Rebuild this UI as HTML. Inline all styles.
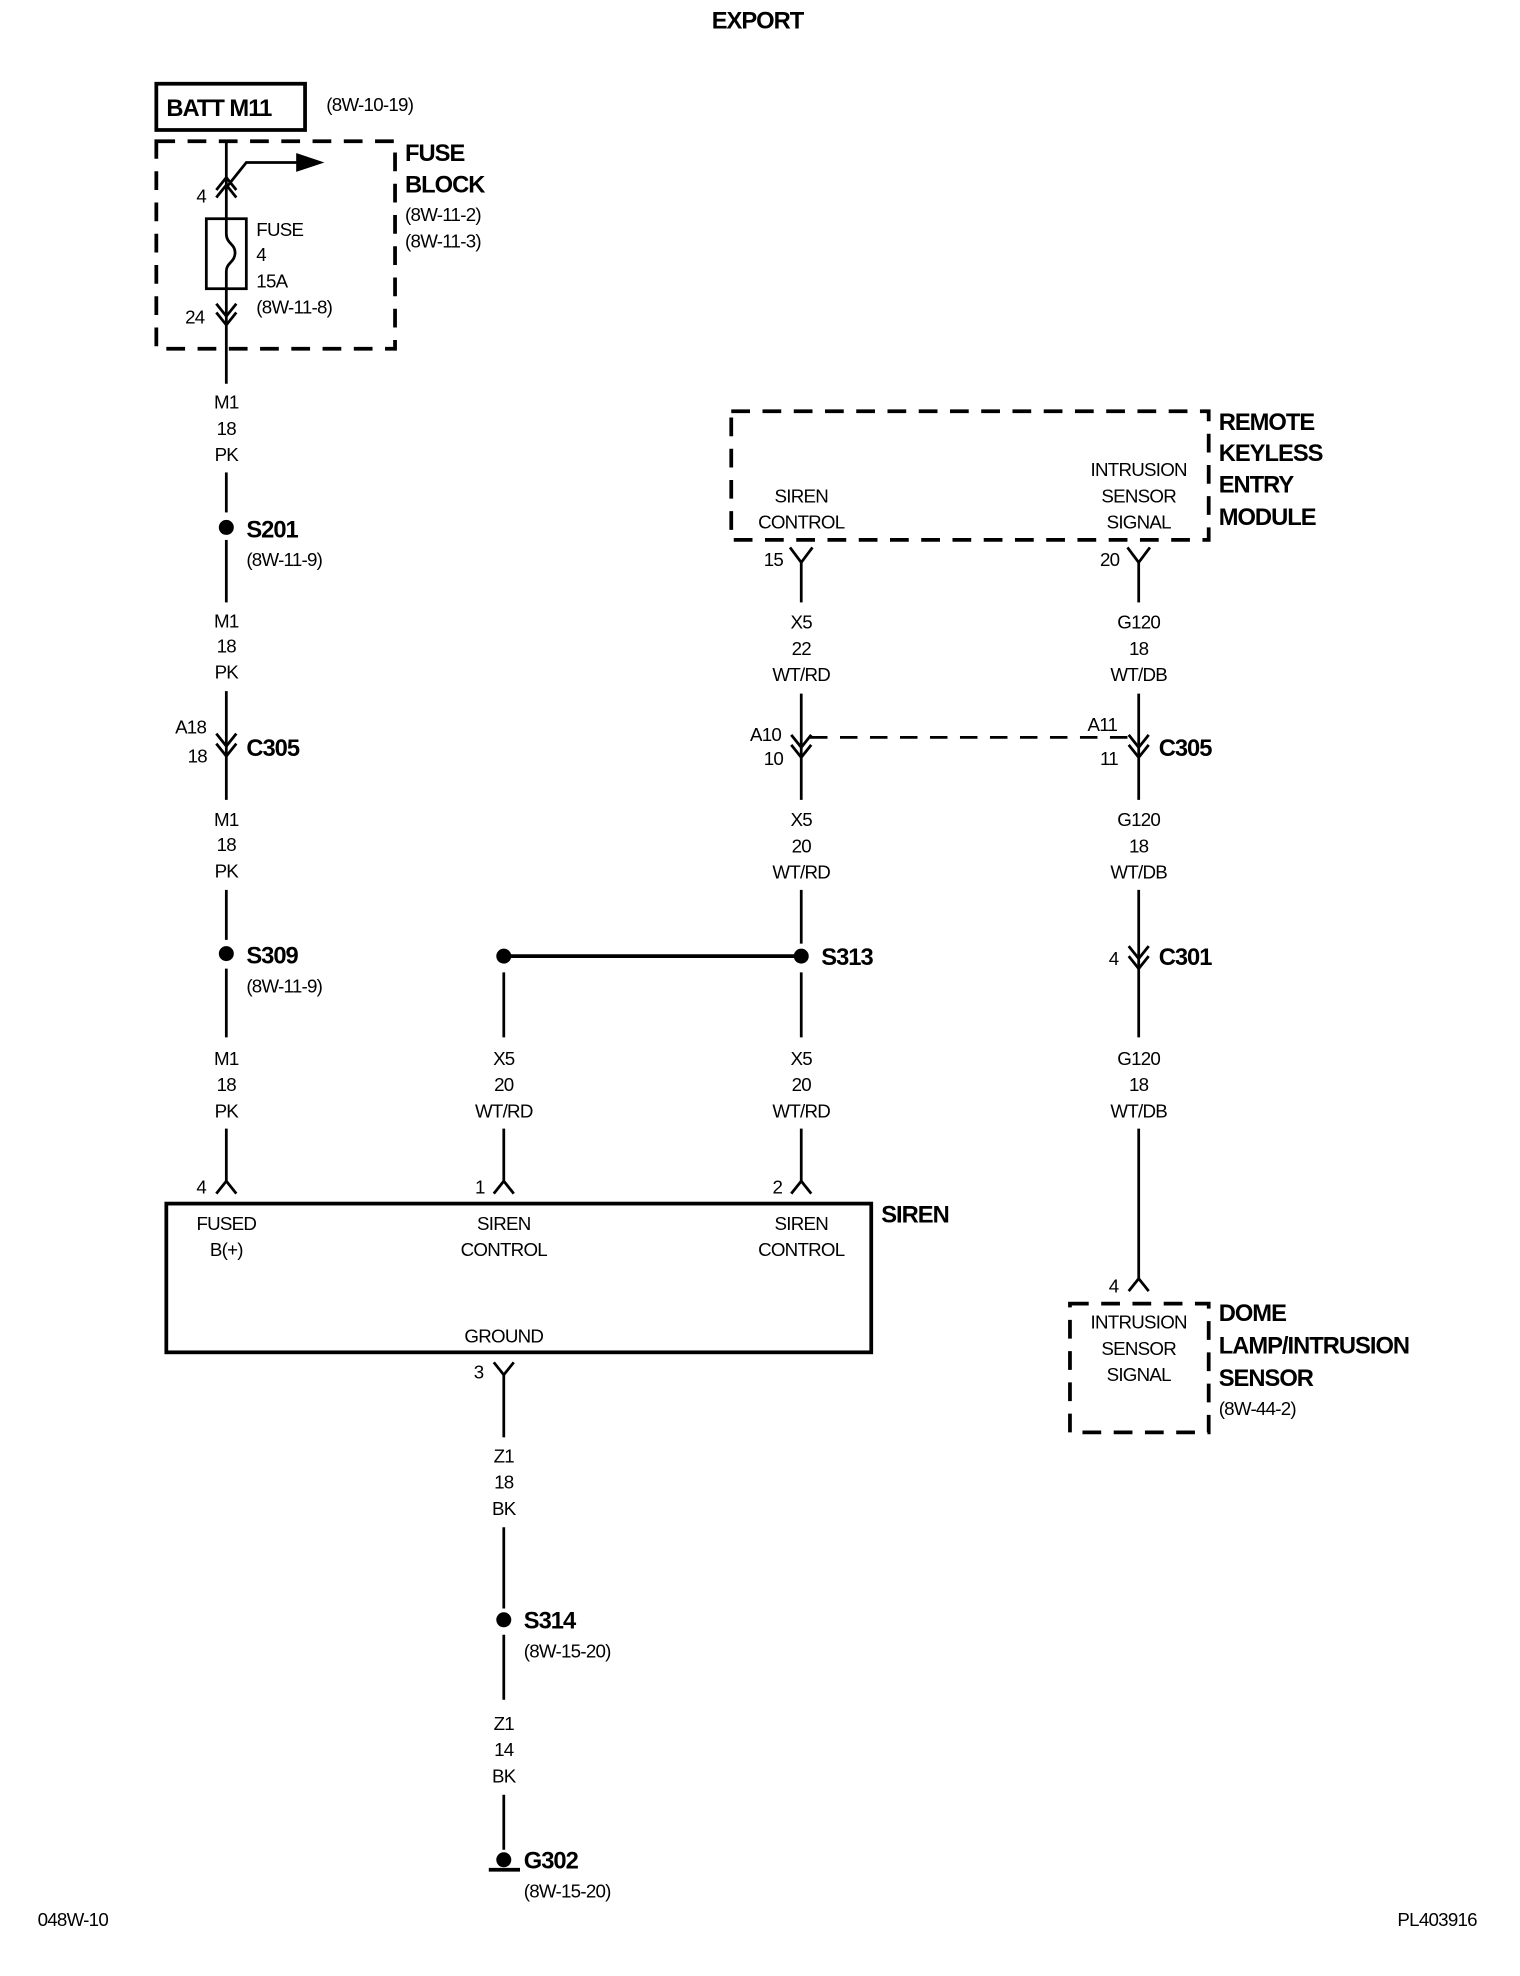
<!DOCTYPE html>
<html><head><meta charset="utf-8"><style>
html,body{margin:0;padding:0;background:#fff;}
svg{display:block;}
text{font-family:"Liberation Sans Narrow","Liberation Sans",sans-serif;fill:#000;letter-spacing:-0.6px;}
.s{font-size:15px;}
.b{font-size:19px;font-weight:bold;letter-spacing:-0.8px;}
.c{text-anchor:middle;}
</style></head><body>
<svg width="1520" height="1976" viewBox="0 0 1216 1581" xmlns="http://www.w3.org/2000/svg">
<g stroke="#000" stroke-width="2.2" fill="none">
<rect x="125" y="67" width="119" height="37" stroke-width="3"/>
<rect x="125" y="113" width="191" height="166" stroke-width="3" stroke-dasharray="15,10"/>
<line x1="181" y1="113" x2="181" y2="175"/>
<polyline points="181,150 197,130 240,130"/>
<polygon points="238,124 256,130 238,136" fill="#000"/>
<polyline points="173,158 181,148 189,158"/>
<polyline points="173,152 181,142 189,152"/>
<rect x="165" y="175" width="32" height="56"/>
<path d="M181,175 v12 c0,8 7,8 7,15 c0,8 -7,8 -7,15 v14"/>
<line x1="181" y1="231" x2="181" y2="307"/>
<polyline points="173,243 181,253 189,243"/>
<polyline points="173,250 181,260 189,250"/>
<line x1="181" y1="378" x2="181" y2="410"/>
<line x1="181" y1="432" x2="181" y2="482"/>
<line x1="181" y1="553" x2="181" y2="640"/>
<polyline points="173,587 181,597 189,587"/>
<polyline points="173,595 181,605 189,595"/>
<line x1="181" y1="712" x2="181" y2="752"/>
<line x1="181" y1="775" x2="181" y2="830"/>
<line x1="181" y1="903" x2="181" y2="945"/>
<polyline points="173,955 181,945 189,955"/>
<rect x="133" y="963" width="564" height="119" stroke-width="3"/>
<line x1="403" y1="765" x2="641" y2="765" stroke-width="3"/>
<line x1="403" y1="778" x2="403" y2="830"/>
<line x1="403" y1="903" x2="403" y2="945"/>
<polyline points="395,955 403,945 411,955"/>
<rect x="585" y="329" width="382" height="103" stroke-width="3" stroke-dasharray="15,10"/>
<polyline points="632,438 641,450 650,438"/>
<line x1="641" y1="450" x2="641" y2="482"/>
<polyline points="902,438 911,450 920,438"/>
<line x1="911" y1="450" x2="911" y2="482"/>
<line x1="641" y1="555" x2="641" y2="640"/>
<polyline points="633,588 641,598 649,588"/>
<polyline points="633,596 641,606 649,596"/>
<line x1="648" y1="590" x2="902" y2="590" stroke-dasharray="14,10"/>
<line x1="911" y1="555" x2="911" y2="640"/>
<polyline points="903,588 911,598 919,588"/>
<polyline points="903,596 911,606 919,596"/>
<line x1="641" y1="712" x2="641" y2="755"/>
<line x1="641" y1="778" x2="641" y2="830"/>
<line x1="641" y1="903" x2="641" y2="945"/>
<polyline points="633,955 641,945 649,955"/>
<line x1="911" y1="712" x2="911" y2="830"/>
<polyline points="903,757 911,767 919,757"/>
<polyline points="903,765 911,775 919,765"/>
<line x1="911" y1="903" x2="911" y2="1023"/>
<polyline points="903,1033 911,1023 919,1033"/>
<rect x="856" y="1043" width="111" height="103" stroke-width="3" stroke-dasharray="15,10"/>
<polyline points="395,1090 403,1100 411,1090"/>
<line x1="403" y1="1100" x2="403" y2="1150"/>
<line x1="403" y1="1222" x2="403" y2="1287"/>
<line x1="403" y1="1308" x2="403" y2="1360"/>
<line x1="403" y1="1436" x2="403" y2="1480"/>
<line x1="391" y1="1496" x2="416" y2="1496" stroke-width="3"/>
</g>
<g fill="#000">
<circle cx="181" cy="422" r="6"/>
<circle cx="181" cy="763" r="6"/>
<circle cx="403" cy="765" r="6"/>
<circle cx="641" cy="765" r="6"/>
<circle cx="403" cy="1296" r="6"/>
<circle cx="403" cy="1488" r="6"/>
</g>
<text class="b c" x="606" y="23" font-size="22">EXPORT</text>
<text class="b" x="133" y="93">BATT M11</text>
<text class="s" x="261" y="89">(8W-10-19)</text>
<text class="b" x="324" y="129">FUSE</text>
<text class="b" x="324" y="154">BLOCK</text>
<text class="s" x="324" y="177">(8W-11-2)</text>
<text class="s" x="324" y="198">(8W-11-3)</text>
<text class="s" x="157" y="162">4</text>
<text class="s" x="205" y="189">FUSE</text>
<text class="s" x="205" y="209">4</text>
<text class="s" x="205" y="230">15A</text>
<text class="s" x="205" y="251">(8W-11-8)</text>
<text class="s" x="148" y="259">24</text>
<text class="s c" x="181" y="327">M1</text><text class="s c" x="181" y="348">18</text><text class="s c" x="181" y="369">PK</text>
<text class="s c" x="181" y="502">M1</text><text class="s c" x="181" y="522">18</text><text class="s c" x="181" y="543">PK</text>
<text class="s c" x="181" y="661">M1</text><text class="s c" x="181" y="681">18</text><text class="s c" x="181" y="702">PK</text>
<text class="s c" x="181" y="852">M1</text><text class="s c" x="181" y="873">18</text><text class="s c" x="181" y="894">PK</text>
<text class="s c" x="403" y="852">X5</text><text class="s c" x="403" y="873">20</text><text class="s c" x="403" y="894">WT/RD</text>
<text class="s c" x="641" y="852">X5</text><text class="s c" x="641" y="873">20</text><text class="s c" x="641" y="894">WT/RD</text>
<text class="s c" x="641" y="503">X5</text><text class="s c" x="641" y="524">22</text><text class="s c" x="641" y="545">WT/RD</text>
<text class="s c" x="641" y="661">X5</text><text class="s c" x="641" y="682">20</text><text class="s c" x="641" y="703">WT/RD</text>
<text class="s c" x="911" y="503">G120</text><text class="s c" x="911" y="524">18</text><text class="s c" x="911" y="545">WT/DB</text>
<text class="s c" x="911" y="661">G120</text><text class="s c" x="911" y="682">18</text><text class="s c" x="911" y="703">WT/DB</text>
<text class="s c" x="911" y="852">G120</text><text class="s c" x="911" y="873">18</text><text class="s c" x="911" y="894">WT/DB</text>
<text class="s c" x="403" y="1170">Z1</text><text class="s c" x="403" y="1191">18</text><text class="s c" x="403" y="1212">BK</text>
<text class="s c" x="403" y="1384">Z1</text><text class="s c" x="403" y="1405">14</text><text class="s c" x="403" y="1426">BK</text>
<text class="s c" x="181" y="984">FUSED</text><text class="s c" x="181" y="1005">B(+)</text>
<text class="s c" x="403" y="984">SIREN</text><text class="s c" x="403" y="1005">CONTROL</text>
<text class="s c" x="641" y="984">SIREN</text><text class="s c" x="641" y="1005">CONTROL</text>
<text class="s c" x="403" y="1074">GROUND</text>
<text class="s c" x="641" y="402">SIREN</text><text class="s c" x="641" y="423">CONTROL</text>
<text class="s c" x="911" y="381">INTRUSION</text><text class="s c" x="911" y="402">SENSOR</text><text class="s c" x="911" y="423">SIGNAL</text>
<text class="s c" x="911" y="1063">INTRUSION</text><text class="s c" x="911" y="1084">SENSOR</text><text class="s c" x="911" y="1105">SIGNAL</text>
<text class="b" x="197" y="430">S201</text><text class="s" x="197" y="453">(8W-11-9)</text>
<text class="s" x="140" y="587">A18</text><text class="s" x="150" y="610">18</text>
<text class="b" x="197" y="605">C305</text>
<text class="b" x="197" y="771">S309</text><text class="s" x="197" y="794">(8W-11-9)</text>
<text class="s" x="157" y="955">4</text><text class="s" x="380" y="955">1</text><text class="s" x="618" y="955">2</text>
<text class="b" x="705" y="978">SIREN</text>
<text class="b" x="657" y="772">S313</text>
<text class="b" x="975" y="344">REMOTE</text><text class="b" x="975" y="369">KEYLESS</text><text class="b" x="975" y="394">ENTRY</text><text class="b" x="975" y="420">MODULE</text>
<text class="s" x="611" y="453">15</text><text class="s" x="880" y="453">20</text>
<text class="s" x="600" y="593">A10</text><text class="s" x="611" y="612">10</text>
<text class="s" x="870" y="585">A11</text><text class="s" x="880" y="612">11</text>
<text class="b" x="927" y="605">C305</text>
<text class="s" x="887" y="772">4</text><text class="b" x="927" y="772">C301</text>
<text class="s" x="887" y="1034">4</text>
<text class="b" x="975" y="1057">DOME</text><text class="b" x="975" y="1083">LAMP/INTRUSION</text><text class="b" x="975" y="1109">SENSOR</text>
<text class="s" x="975" y="1132">(8W-44-2)</text>
<text class="s" x="379" y="1103">3</text>
<text class="b" x="419" y="1303">S314</text><text class="s" x="419" y="1326">(8W-15-20)</text>
<text class="b" x="419" y="1495">G302</text><text class="s" x="419" y="1518">(8W-15-20)</text>
<text class="s" x="30" y="1541">048W-10</text>
<text class="s" x="1118" y="1541">PL403916</text>
</svg>
</body></html>
